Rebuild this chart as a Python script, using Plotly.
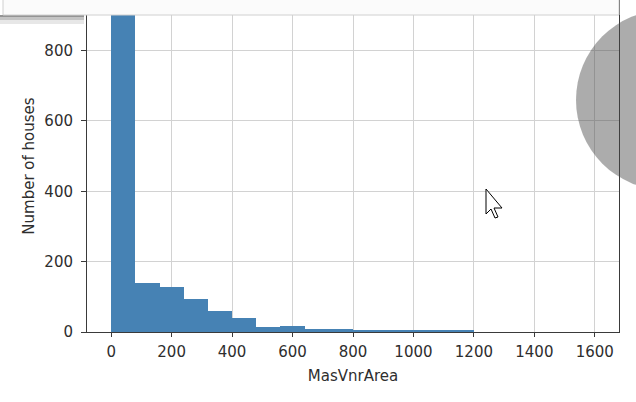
import plotly.graph_objects as go

# histogram of MasVnrArea, 20 bins over 0..1600
bin_edges = [0, 80, 160, 240, 320, 400, 480, 560, 640, 720, 800,
             880, 960, 1040, 1120, 1200, 1280, 1360, 1440, 1520, 1600]
counts = [925, 140, 127, 95, 59, 41, 13, 18, 9, 9, 5, 4, 3, 3, 3, 0, 0, 0, 0, 0]
x_ticks = [0, 200, 400, 600, 800, 1000, 1200, 1400, 1600]
y_ticks = [0, 200, 400, 600, 800]

centers = [(a + b) / 2 for a, b in zip(bin_edges[:-1], bin_edges[1:])]
widths = [b - a for a, b in zip(bin_edges[:-1], bin_edges[1:])]

# plot area in pixels (used for overlay decorations only)
L, R, T, B = 87, 619, 0, 332


def px(x):
    return (x - L) / (R - L)


def py(y):
    return (B - y) / (B - T)


FONT = "DejaVu Sans"
TXT = "#2e2e2e"

fig = go.Figure()
fig.add_bar(x=centers, y=counts, width=widths, marker={"color": "#4682b4", "line": {"width": 0}})

fig.update_layout(
    width=636,
    height=402,
    margin={"l": L, "r": 636 - R, "t": T, "b": 402 - B},
    paper_bgcolor="white",
    plot_bgcolor="white",
    bargap=0,
    showlegend=False,
    font={"family": FONT, "size": 15, "color": TXT},
    xaxis={
        "range": [-80, 1680],
        "tickvals": x_ticks,
        "showgrid": True,
        "gridcolor": "#d2d2d2",
        "gridwidth": 1,
        "zeroline": False,
        "showline": True,
        "linecolor": "#3a3a3a",
        "linewidth": 1,
        "mirror": True,
        "ticks": "outside",
        "ticklen": 4,
        "tickcolor": "#3a3a3a",
        "ticklabelstandoff": 2,
        "title": {"text": "MasVnrArea", "standoff": 10, "font": {"size": 15}},
    },
    yaxis={
        "range": [0, 944],
        "tickvals": y_ticks,
        "showgrid": True,
        "gridcolor": "#d2d2d2",
        "gridwidth": 1,
        "zeroline": False,
        "showline": True,
        "linecolor": "#3a3a3a",
        "linewidth": 1,
        "mirror": True,
        "ticks": "outside",
        "ticklen": 5,
        "tickcolor": "#3a3a3a",
        "ticklabelstandoff": 5,
        "title": {"text": "Number of houses", "standoff": 6, "font": {"size": 15}},
    },
)

# screen-capture overlays: top toolbar strip with its shadow, gray circle, mouse cursor
for y0, y1, alpha in [(15, 17, 0.55), (17, 20, 0.3), (20, 24, 0.12)]:
    fig.add_shape(type="rect", xref="paper", yref="paper",
                  x0=px(0), x1=px(84), y0=py(y1), y1=py(y0),
                  fillcolor=f"rgba(60,60,60,{alpha})", line={"width": 0}, layer="above")
fig.add_shape(type="rect", xref="paper", yref="paper",
              x0=px(3), x1=px(619), y0=py(15), y1=py(-5),
              fillcolor="#fbfbfb", line={"color": "#d0d0d0", "width": 1}, layer="above")
fig.add_shape(type="circle", xref="paper", yref="paper",
              x0=px(576), x1=px(756), y0=py(190), y1=py(10),
              fillcolor="rgba(70,70,70,0.45)", line={"width": 0}, layer="above")

cursor = [(486, 189), (486, 214), (491, 209), (495, 218), (498, 217), (494, 208), (502, 208)]
path = "M " + " L ".join(f"{px(x):.5f},{py(y):.5f}" for x, y in cursor) + " Z"
fig.add_shape(type="path", xref="paper", yref="paper", path=path,
              fillcolor="white", line={"color": "black", "width": 1}, layer="above")

fig.write_html("out.html", config={"displayModeBar": False},
               post_script="document.body.style.margin='0px';")
